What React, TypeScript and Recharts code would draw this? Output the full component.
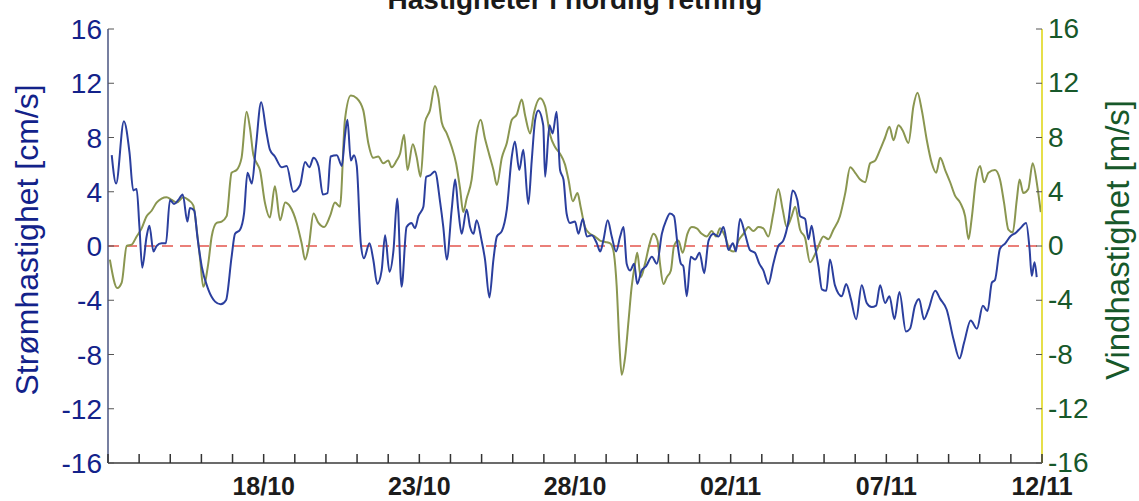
import React from 'react';
import { LineChart, Line, XAxis, YAxis, ReferenceLine } from 'recharts';

const FONT = '"Liberation Sans", Arial, sans-serif';

// days since 13/10
const curDays = [
  0.12, 0.26, 0.51, 0.69, 0.81, 0.92, 1.01, 1.1, 1.24, 1.33, 1.46, 1.56, 1.72, 1.86, 1.99, 2.12, 2.26, 2.4, 2.55, 2.63,
  2.77, 2.87, 3.01, 3.22, 3.44, 3.62, 3.79, 3.97, 4.08, 4.24, 4.37, 4.48, 4.62, 4.75, 4.92, 5.08, 5.2, 5.36, 5.58, 5.74,
  5.95, 6.17, 6.33, 6.47, 6.6, 6.76, 6.9, 7.05,
  7.15, 7.35, 7.51, 7.61, 7.69, 7.8, 7.9, 7.99, 8.12, 8.22, 8.4, 8.52, 8.65, 8.79, 8.9, 9.04, 9.17, 9.29, 9.43, 9.59,
  9.75, 9.86, 9.97, 10.13, 10.22, 10.34, 10.5, 10.67, 10.77, 10.88, 11.04, 11.15, 11.25, 11.36, 11.52, 11.63, 11.74, 11.84, 12.0, 12.11,
  12.25, 12.38, 12.49, 12.65, 12.81, 12.97, 13.07, 13.21, 13.34, 13.5, 13.61, 13.72, 13.82, 13.98, 14.04, 14.18, 14.28, 14.41,
  14.52, 14.63, 14.73, 14.84, 15.0, 15.11, 15.25, 15.38, 15.54, 15.7, 15.81, 15.91, 16.05, 16.18, 16.32, 16.45, 16.56, 16.66, 16.77, 16.9,
  17.0, 17.14, 17.28, 17.47, 17.63, 17.79, 17.93, 18.05, 18.18, 18.29, 18.4, 18.48, 18.59, 18.72, 18.86, 19.0, 19.15, 19.29, 19.45, 19.61,
  19.77, 19.93, 20.07, 20.17, 20.3, 20.46, 20.62, 20.78, 20.92, 21.05, 21.21, 21.37, 21.53, 21.69, 21.86, 21.99, 22.14,
  22.23, 22.39, 22.5, 22.6, 22.71, 22.82, 22.93, 23.07, 23.19, 23.35, 23.57, 23.71, 23.86, 24.03, 24.21, 24.37, 24.53, 24.67, 24.8, 24.96,
  25.1, 25.26, 25.42, 25.63, 25.76, 25.92, 26.05, 26.21, 26.35, 26.57, 26.73, 26.94, 27.16, 27.35, 27.5, 27.71, 27.91, 28.1, 28.25, 28.39,
  28.49, 28.65, 28.82, 28.98, 29.17, 29.3, 29.49, 29.6, 29.67, 29.76, 29.83,
];
const curVals = [
  6.7, 4.6, 9.2, 6.9, 4.1, 4.2, 1.4, -1.6, 0.7, 1.5, -0.4, 0, 0.2, 0.2, 3.4, 3.1, 3.4, 3.8, 1.8, 2.8,
  2.6, 0.7, -1.5, -3.2, -4.1, -4.3, -4.0, -0.8, 0.9, 1.2, 2.4, 5.4, 4.6, 7.3, 10.6, 8.5, 7.1, 6.6, 5.8, 5.9,
  4.0, 4.5, 6.2, 5.8, 6.5, 5.9, 3.8, 3.9,
  6.6, 6.7, 5.9, 8.1, 9.3, 6.3, 6.7, 5.9, 0.2, -0.9, 0.2, -1.0, -2.8, -1.8, 0.8, -1.9, -0.3, 3.5, -3.0, 1.4,
  1.7, 1.3, 2.2, 2.9, 5.1, 5.2, 5.5, 3.2, 1.4, -1.0, 2.7, 4.9, 2.7, 0.9, 2.7, 1.4, 0.9, 1.9, 0.4, -1.0,
  -3.8, -1.0, 0.7, 1.1, 2.7, 6.6, 7.7, 5.6, 7.1, 3.1, 6.3, 9.3, 10.0, 8.9, 5.1, 8.9, 8.3, 9.9,
  5.6, 4.9, 2.4, 1.7, 1.8, 0.9, 2.0, 0.7, 0.8, 0.2, -0.4, 0.4, 1.9, 0.7, -0.4, 0.7, 1.4, -1.3, -1.8, -1.3,
  -2.8, -1.8, -1.5, -0.8, -1.3, 0.9, 1.9, 2.4, 2.2, 0.2, -1.3, -1.5, -3.7, -0.8, -1.0, -0.5, -2.0, 0.4, 0.9, 0.7,
  1.4, -0.3, 0.2, -0.4, 2.0, 0.9, -0.3, -0.5, -1.3, -1.8, -2.8, -1.3, 0, 0.4, 1.9, 4.1, 3.4,
  2.2, 2.0, 0.5, 1.5, 0, -1.5, -3.2, -3.3, -1.0, -2.9, -3.7, -2.8, -3.9, -5.4, -2.9, -4.2, -4.5, -4.4, -2.9, -4.2,
  -3.7, -5.4, -3.4, -6.3, -6.1, -4.4, -3.9, -5.4, -4.7, -3.3, -3.9, -4.7, -6.9, -8.3, -7.1, -5.5, -6.1, -4.4, -4.8, -2.7,
  -2.5, -0.2, 0.2, 0.7, 1.0, 1.3, 1.7, -0.2, -2.2, -1.2, -2.3,
];

const windDays = [
  0.06, 0.3, 0.44, 0.6, 0.76, 0.92, 1.08, 1.24, 1.4, 1.56, 1.72, 1.88, 2.05, 2.21, 2.42, 2.58, 2.74, 2.85, 2.96, 3.06,
  3.22, 3.33, 3.49, 3.65, 3.81, 3.97, 4.13, 4.29, 4.45, 4.56, 4.67, 4.78, 4.88, 5.04, 5.2, 5.36, 5.53, 5.69, 5.85, 6.06,
  6.22, 6.33, 6.45, 6.6, 6.76, 6.94, 7.13,
  7.29, 7.45, 7.61, 7.8, 7.99, 8.2, 8.36, 8.52, 8.68, 8.84, 9.0, 9.11, 9.27, 9.38, 9.51, 9.62, 9.79, 9.91, 10.04, 10.18,
  10.34, 10.5, 10.61, 10.72, 10.88, 11.04, 11.18, 11.31, 11.41, 11.52, 11.68, 11.84, 11.97, 12.11, 12.25, 12.38, 12.49, 12.65, 12.81, 12.97,
  13.13, 13.29, 13.4, 13.56, 13.68, 13.88, 14.04, 14.2, 14.36,
  14.52, 14.68, 14.79, 14.93, 15.08, 15.18, 15.32, 15.48, 15.64, 15.8, 15.97, 16.13, 16.23, 16.34, 16.43, 16.5, 16.61, 16.72, 16.82, 16.93,
  17.0, 17.11, 17.25, 17.39, 17.52, 17.65, 17.73, 17.84, 17.95, 18.08, 18.18, 18.32, 18.46, 18.61, 18.75, 18.91, 19.07, 19.23, 19.39, 19.53,
  19.66, 19.82, 19.98, 20.11, 20.25, 20.41, 20.57, 20.73, 20.89, 21.05, 21.21, 21.37, 21.53, 21.67, 21.8, 21.96, 22.07,
  22.23, 22.39, 22.55, 22.71, 22.82, 22.98, 23.14, 23.3, 23.51, 23.68, 23.84, 24.0, 24.16, 24.32, 24.48, 24.64, 24.8, 24.96, 25.1, 25.23,
  25.39, 25.53, 25.71, 25.87, 26.0, 26.14, 26.3, 26.46, 26.6, 26.73, 26.89, 27.05, 27.21, 27.37, 27.53, 27.64, 27.74, 27.88, 28.01, 28.14,
  28.28, 28.49, 28.65, 28.78, 28.92, 29.06, 29.19, 29.28, 29.4, 29.56, 29.7, 29.85, 29.96,
];
const windVals = [
  -1.0, -3.1, -2.7, 0, 0.1, 0.7, 1.3, 2.2, 2.6, 3.2, 3.5, 3.6, 3.4, 3.2, 3.6, 3.4, 3.0, 1.2, -1.0, -3.0,
  -1.3, 0.7, 1.7, 1.8, 2.2, 5.4, 5.6, 6.5, 9.9, 8.7, 6.7, 6.1, 5.6, 3.2, 2.1, 4.4, 1.9, 3.2, 2.9, 1.7,
  0.2, -1.0, 0, 2.4, 1.7, 1.4, 2.2,
  3.2, 2.9, 9.3, 11.1, 10.9, 10.0, 7.6, 6.5, 6.6, 6.1, 6.3, 5.8, 6.3, 6.8, 8.2, 5.6, 7.5, 6.6, 5.1, 9.1,
  10.0, 11.8, 11.0, 9.1, 8.3, 7.3, 6.1, 4.2, 2.5, 3.5, 4.9, 8.3, 9.3, 7.9, 6.7, 5.6, 4.5, 6.5, 7.6, 9.3,
  9.7, 10.8, 9.6, 8.3, 9.8, 10.9, 10.3, 8.2, 7.3,
  6.8, 6.0, 4.9, 3.3, 3.9, 2.9, 1.4, 0.9, 0.7, 0.4, 0.3, 0.2, -0.3, -3.0, -7.4, -9.5, -8.2, -5.5, -3.0, -1.3,
  -0.5, -2.3, -1.3, 0.1, 0.9, 0.4, -1.3, -2.8, -2.3, -1.8, 0, 0.4, -0.5, 0.9, 1.4, 1.3, 0.9, 0.7, 1.1, 0.7,
  1.3, 0.7, -0.3, -0.4, 0.4, 0.9, 1.4, 1.1, 1.4, 1.3, 0.7, 2.4, 4.2, 2.7, 1.4, 2.2, 2.9,
  1.2, 0.6, -1.2, -0.6, 0, 0.7, 0.5, 1.2, 2.2, 3.9, 5.8, 5.4, 4.9, 4.7, 6.1, 6.3, 7.1, 8.0, 8.8, 7.8,
  8.9, 8.5, 7.6, 10.3, 11.3, 10.0, 7.8, 6.1, 5.4, 6.5, 5.6, 4.7, 3.7, 3.2, 2.2, 0.5, 2.0, 4.9, 5.9, 4.7,
  5.4, 5.6, 4.9, 3.2, 1.2, 1.0, 3.4, 4.9, 3.9, 4.2, 6.1, 4.4, 2.5,
];

const dayTicks = [0, 1, 2, 3, 4, 5, 6, 7, 8, 9, 10, 11, 12, 13, 14, 15, 16, 17, 18, 19, 20, 21, 22, 23, 24, 25, 26, 27, 28, 29, 30];
const labelDays = [5, 10, 15, 20, 25, 30];
const dateLabels = ['18/10', '23/10', '28/10', '02/11', '07/11', '12/11'];
const speedTicks = [-16, -12, -8, -4, 0, 4, 8, 12, 16];

const currentData = curDays.map((d, i) => ({ day: d, current: curVals[i] }));
const windData = windDays.map((d, i) => ({ day: d, wind: windVals[i] }));

const NAVY = '#13228a';
const GREEN = '#17582a';

const BottomTick = (props: any) => {
  const { x, y, payload } = props;
  const idx = labelDays.indexOf(payload.value);
  return (
    <g>
      <line x1={x} y1={y} x2={x} y2={y - 9} stroke="#333" strokeWidth={1.5} />
      {idx >= 0 && (
        <text x={x} y={y + 32} textAnchor="middle" fontSize={25} fontWeight="bold" fill="#1c1c1c" fontFamily={FONT}>
          {dateLabels[idx]}
        </text>
      )}
    </g>
  );
};

const TopTick = (props: any) => {
  const { x, y } = props;
  return <line x1={x} y1={y} x2={x} y2={y + 9} stroke="#333" strokeWidth={1.5} />;
};

const LeftTick = (props: any) => {
  const { x, y, payload } = props;
  return (
    <g>
      <line x1={x} y1={y} x2={x + 6} y2={y} stroke="#555" strokeWidth={1} />
      <text x={x - 6} y={y + 10} textAnchor="end" fontSize={28} fill={NAVY} fontFamily={FONT}>
        {payload.value}
      </text>
    </g>
  );
};

const RightTick = (props: any) => {
  const { x, y, payload } = props;
  return (
    <g>
      <line x1={x} y1={y} x2={x - 6} y2={y} stroke="#555" strokeWidth={1} />
      <text x={x + 6} y={y + 9} textAnchor="start" fontSize={28} fill={GREEN} fontFamily={FONT}>
        {payload.value}
      </text>
    </g>
  );
};

export default function App() {
  return (
    <div style={{ position: 'absolute', left: 0, top: 0, width: 1139, height: 501, background: '#fff', overflow: 'hidden' }}>
      <LineChart width={1139} height={501} margin={{ top: 29, right: 0, bottom: 0, left: 0 }}>
        <XAxis
          xAxisId="bottom"
          dataKey="day"
          type="number"
          domain={[0, 30]}
          ticks={dayTicks}
          allowDataOverflow
          height={38}
          tickSize={0}
          tickMargin={0}
          tickLine={false}
          tick={<BottomTick />}
          axisLine={{ stroke: '#3a3a3a', strokeWidth: 1.5 }}
          interval={0}
        />
        <XAxis
          xAxisId="top"
          orientation="top"
          dataKey="day"
          type="number"
          domain={[0, 30]}
          ticks={dayTicks}
          allowDataOverflow
          height={0}
          tickSize={0}
          tickMargin={0}
          tickLine={false}
          tick={<TopTick />}
          axisLine={{ stroke: '#2a2a2a', strokeWidth: 1.5 }}
          interval={0}
        />
        <YAxis
          yAxisId="left"
          domain={[-16, 16]}
          ticks={speedTicks}
          width={108}
          tickSize={0}
          tickMargin={0}
          tickLine={false}
          tick={<LeftTick />}
          axisLine={{ stroke: '#4a5580', strokeWidth: 1.5 }}
          interval={0}
        />
        <YAxis
          yAxisId="right"
          orientation="right"
          domain={[-16, 16]}
          ticks={speedTicks}
          width={97}
          tickSize={0}
          tickMargin={0}
          tickLine={false}
          tick={<RightTick />}
          axisLine={{ stroke: '#e6df4a', strokeWidth: 2 }}
          interval={0}
        />
        <ReferenceLine yAxisId="left" xAxisId="bottom" y={0} stroke="#e4564e" strokeWidth={1.5} strokeDasharray="11 7" />
        <Line
          data={windData}
          xAxisId="bottom"
          yAxisId="right"
          dataKey="wind"
          type="monotone"
          stroke="#8a9650"
          strokeWidth={2}
          dot={false}
          isAnimationActive={false}
        />
        <Line
          data={currentData}
          xAxisId="bottom"
          yAxisId="left"
          dataKey="current"
          type="monotone"
          stroke="#2b3f9e"
          strokeWidth={2}
          dot={false}
          isAnimationActive={false}
        />
      </LineChart>
      <svg width={1139} height={501} style={{ position: 'absolute', left: 0, top: 0, pointerEvents: 'none' }}>
        <text x={575} y={9} textAnchor="middle" fontSize={28} fontWeight="bold" fill="#1a1a1a" fontFamily={FONT}>
          Hastigheter i nordlig retning
        </text>
        <text
          x={0}
          y={0}
          transform="translate(38 240) rotate(-90)"
          textAnchor="middle"
          fontSize={32}
          fill={NAVY}
          fontFamily={FONT}
        >
          Strømhastighet [cm/s]
        </text>
        <text
          x={0}
          y={0}
          transform="translate(1129 240) rotate(-90)"
          textAnchor="middle"
          fontSize={33}
          fill={GREEN}
          fontFamily={FONT}
        >
          Vindhastighet [m/s]
        </text>
      </svg>
    </div>
  );
}
